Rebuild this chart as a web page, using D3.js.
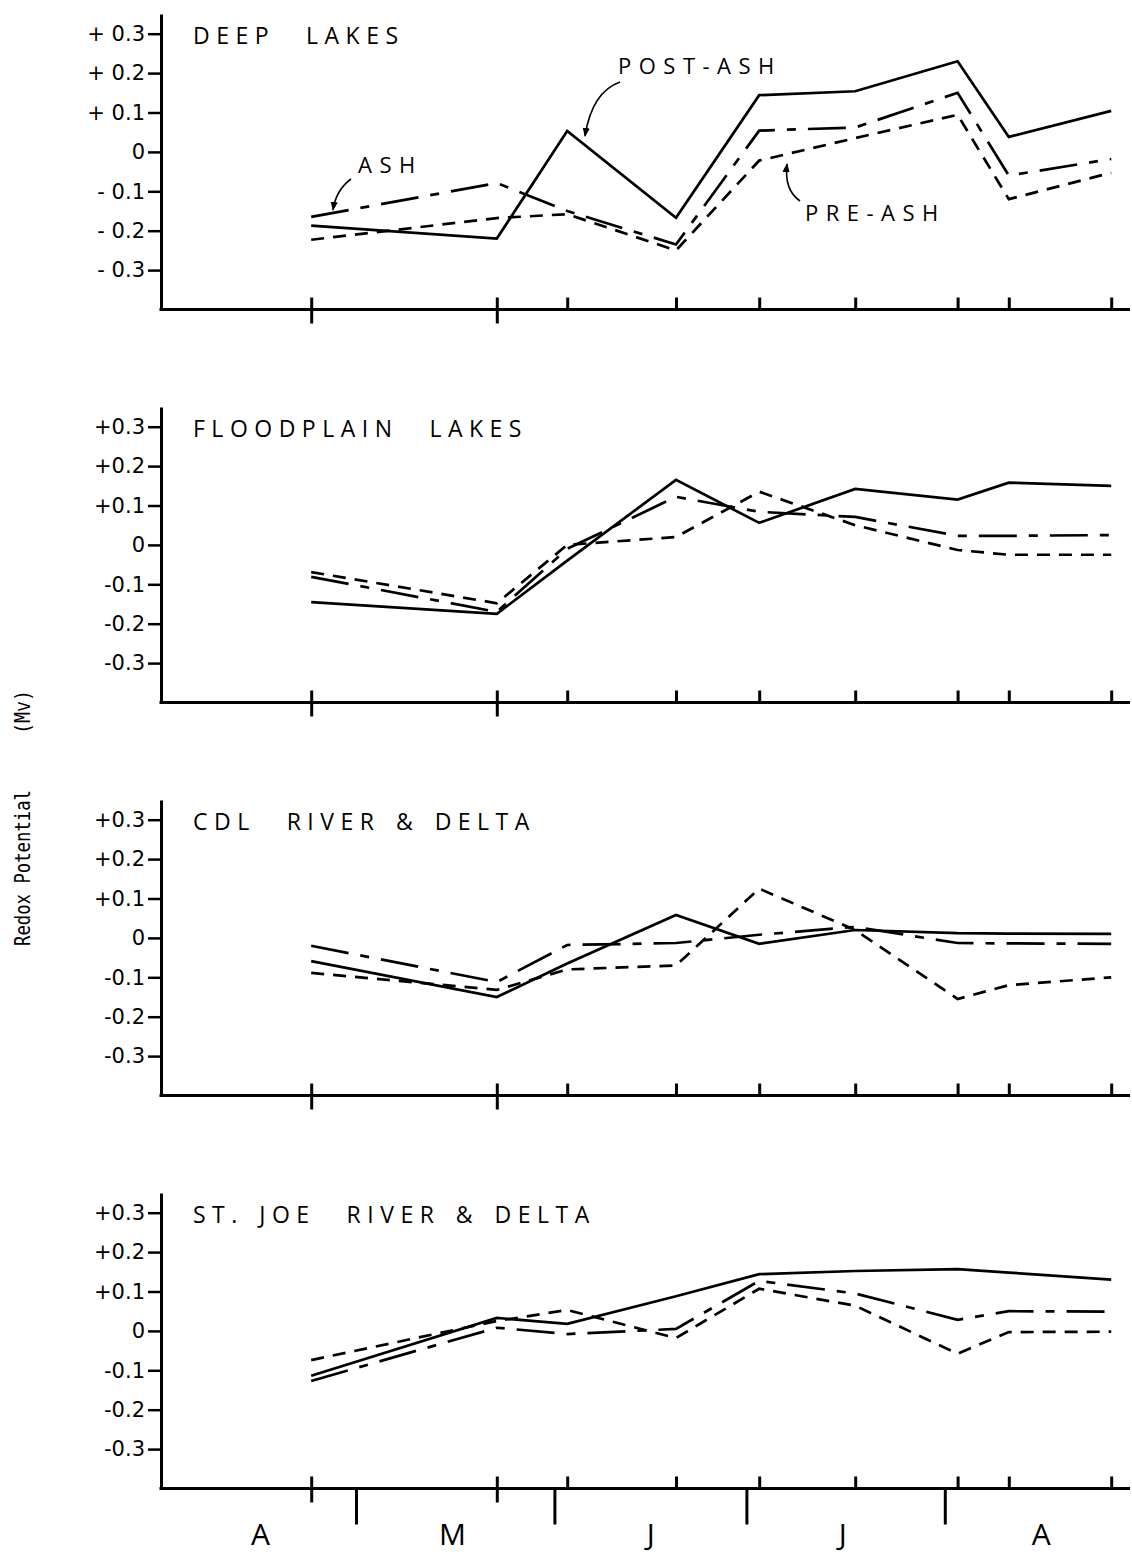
<!DOCTYPE html>
<html>
<head>
<meta charset="utf-8">
<script src="https://cdn.jsdelivr.net/npm/d3@7"></script>
<style>
  body { margin: 0; background: #fff; }
  svg { display: block; }
</style>
</head>
<body>
<svg></svg>
<script>
// sampling dates (1980)
const sampleDates = ["1980-04-24", "1980-05-23", "1980-06-03", "1980-06-20", "1980-07-03",
                     "1980-07-18", "1980-08-03", "1980-08-11", "1980-08-27"];

const panelNames = ["DEEP  LAKES", "FLOODPLAIN  LAKES", "CDL  RIVER & DELTA", "ST. JOE  RIVER & DELTA"];

// redox potential (Mv), one array per panel and series
const deepPre   = [-0.223, -0.168, -0.158, -0.25, -0.022, 0.035, 0.094, -0.12, -0.053];
const deepAsh   = [-0.165, -0.079, -0.15, -0.235, 0.054, 0.062, 0.15, -0.06, -0.018];
const deepPost  = [-0.187, -0.22, 0.053, -0.167, 0.144, 0.154, 0.23, 0.038, 0.104];

const floodPre  = [-0.069, -0.148, 0.0, 0.02, 0.135, 0.05, -0.013, -0.025, -0.025];
const floodAsh  = [-0.081, -0.17, -0.01, 0.122, 0.084, 0.071, 0.023, 0.023, 0.025];
const floodPost = [-0.145, -0.175, -0.04, 0.165, 0.056, 0.142, 0.115, 0.158, 0.15];

const cdlPre    = [-0.089, -0.132, -0.08, -0.07, 0.125, 0.02, -0.155, -0.12, -0.10];
const cdlAsh    = [-0.02, -0.112, -0.018, -0.013, 0.008, 0.028, -0.013, -0.014, -0.015];
const cdlPost   = [-0.059, -0.15, -0.065, 0.058, -0.015, 0.02, 0.012, 0.011, 0.01];

const joePre    = [-0.074, 0.025, 0.053, -0.018, 0.107, 0.064, -0.058, -0.003, -0.002];
const joeAsh    = [-0.127, 0.008, -0.008, 0.005, 0.127, 0.095, 0.028, 0.05, 0.049];
const joePost   = [-0.114, 0.033, 0.018, 0.088, 0.144, 0.152, 0.157, 0.148, 0.13];

const yTicks = [0.3, 0.2, 0.1, 0, -0.1, -0.2, -0.3];
const tickLabelsSpaced = ["+ 0.3", "+ 0.2", "+ 0.1", "0", "- 0.1", "- 0.2", "- 0.3"];
const tickLabels = ["+0.3", "+0.2", "+0.1", "0", "-0.1", "-0.2", "-0.3"];
const monthLetters = ["A", "M", "J", "J", "A"];

const panels = [
  [deepPre, deepAsh, deepPost],
  [floodPre, floodAsh, floodPost],
  [cdlPre, cdlAsh, cdlPost],
  [joePre, joeAsh, joePost]
];

const width = 1132, height = 1564;
const axisLeft = 161, axisRight = 1130;
const panelStep = 393, pxPerUnit = 394;

const svg = d3.select("svg").attr("width", width).attr("height", height);

const parse = d3.utcParse("%Y-%m-%d");
const dates = sampleDates.map(parse);

const x = d3.scaleUtc()
  .domain([parse("1980-04-01"), parse("1980-09-01")])
  .range([164, 164 + 153 * 6.4]);

const dashes = ["13,9", "38,12,9,12", null];

panels.forEach((series, i) => {
  const top = 14 + i * panelStep;
  const y = d3.scaleLinear().domain([-0.4, 0.35]).range([top + 0.75 * pxPerUnit, top]);
  const g = svg.append("g");
  const labels = i == 0 ? tickLabelsSpaced : tickLabels;

  // y axis
  const ya = g.append("g")
    .attr("transform", `translate(${axisLeft},0)`)
    .call(d3.axisLeft(y).tickValues(yTicks).tickSize(13).tickSizeOuter(0).tickPadding(3)
      .tickFormat((d, k) => labels[k]));
  ya.select(".domain").attr("stroke-width", 3);
  ya.selectAll(".tick line").attr("stroke-width", 2.5);
  ya.selectAll(".tick text")
    .attr("font-family", "DejaVu Sans, sans-serif")
    .attr("font-size", 21)
    .attr("fill", "#000")
    .style("white-space", "pre");

  // x axis line
  const base = y(-0.4);
  g.append("line")
    .attr("x1", axisLeft - 1.5).attr("x2", axisRight)
    .attr("y1", base).attr("y2", base)
    .attr("stroke", "#000").attr("stroke-width", 3);

  // sampling ticks above the axis
  g.append("g")
    .attr("transform", `translate(0,${base})`)
    .call(d3.axisTop(x).tickValues(dates).tickSize(12).tickFormat(""))
    .call(a => a.select(".domain").remove())
    .selectAll(".tick line").attr("stroke-width", 3);

  // first two dates cross the axis
  g.append("g")
    .attr("transform", `translate(0,${base})`)
    .call(d3.axisBottom(x).tickValues(dates.slice(0, 2)).tickSize(14).tickFormat(""))
    .call(a => a.select(".domain").remove())
    .selectAll(".tick line").attr("stroke-width", 3);

  if (i == panels.length - 1) {
    const monthStarts = d3.utcMonth.range(parse("1980-05-01"), parse("1980-08-02"));
    g.append("g")
      .attr("transform", `translate(0,${base})`)
      .call(d3.axisBottom(x).tickValues(monthStarts).tickSize(36).tickFormat(""))
      .call(a => a.select(".domain").remove())
      .selectAll(".tick line").attr("stroke-width", 3);

    const monthMids = d3.utcMonth.range(parse("1980-04-01"), parse("1980-08-02")).map(d => d3.utcDay.offset(d, 15));
    g.append("g")
      .attr("transform", `translate(0,${base})`)
      .call(d3.axisBottom(x).tickValues(monthMids).tickSize(0).tickPadding(35)
        .tickFormat((d, k) => monthLetters[k]))
      .call(a => a.select(".domain").remove())
      .selectAll("text")
      .attr("font-family", "Open Sans, sans-serif")
      .attr("font-size", 30)
      .attr("fill", "#000");
  }

  // panel title
  g.append("text")
    .attr("x", 193).attr("y", y(0.3) + 10)
    .attr("font-family", "Open Sans, sans-serif")
    .attr("font-size", 23)
    .attr("letter-spacing", 6.5)
    .attr("word-spacing", 3)
    .style("white-space", "pre")
    .text(panelNames[i]);

  const line = d3.line().x((d, k) => x(dates[k])).y(d => y(d));
  series.forEach((vals, s) => {
    g.append("path")
      .datum(vals)
      .attr("d", line)
      .attr("fill", "none")
      .attr("stroke", "#000")
      .attr("stroke-width", 2.7)
      .attr("stroke-linejoin", "miter")
      .attr("stroke-dasharray", dashes[s]);
  });
});

// annotations in the first panel
const defs = svg.append("defs");
defs.append("marker")
  .attr("id", "arrow")
  .attr("viewBox", "0 0 10 10")
  .attr("refX", 9).attr("refY", 5)
  .attr("markerWidth", 9).attr("markerHeight", 9)
  .attr("markerUnits", "userSpaceOnUse")
  .attr("orient", "auto")
  .append("path").attr("d", "M0,1L10,5L0,9z").attr("fill", "#000");

const notes = [
  { text: "POST-ASH", tx: 618, ty: 74, path: "M620,82 Q592,92 585,136" },
  { text: "ASH", tx: 358, ty: 173, path: "M351,179 Q336,190 333,210" },
  { text: "PRE-ASH", tx: 805, ty: 221, path: "M800,201 Q784,190 787,164" }
];
notes.forEach(n => {
  svg.append("text")
    .attr("x", n.tx).attr("y", n.ty)
    .attr("font-family", "Open Sans, sans-serif")
    .attr("font-size", 22)
    .attr("letter-spacing", 7.5)
    .text(n.text);
  svg.append("path")
    .attr("d", n.path)
    .attr("fill", "none")
    .attr("stroke", "#000")
    .attr("stroke-width", 1.6)
    .attr("marker-end", "url(#arrow)");
});

// y axis title
svg.append("text")
  .attr("transform", "translate(30,868) rotate(-90)")
  .attr("text-anchor", "middle")
  .attr("font-family", "DejaVu Sans Mono, monospace")
  .attr("font-size", 21)
  .attr("textLength", 156)
  .attr("lengthAdjust", "spacingAndGlyphs")
  .text("Redox Potential");
svg.append("text")
  .attr("transform", "translate(30,712) rotate(-90)")
  .attr("text-anchor", "middle")
  .attr("font-family", "DejaVu Sans Mono, monospace")
  .attr("font-size", 21)
  .attr("textLength", 44)
  .attr("lengthAdjust", "spacingAndGlyphs")
  .text("(Mv)");
</script>
</body>
</html>
